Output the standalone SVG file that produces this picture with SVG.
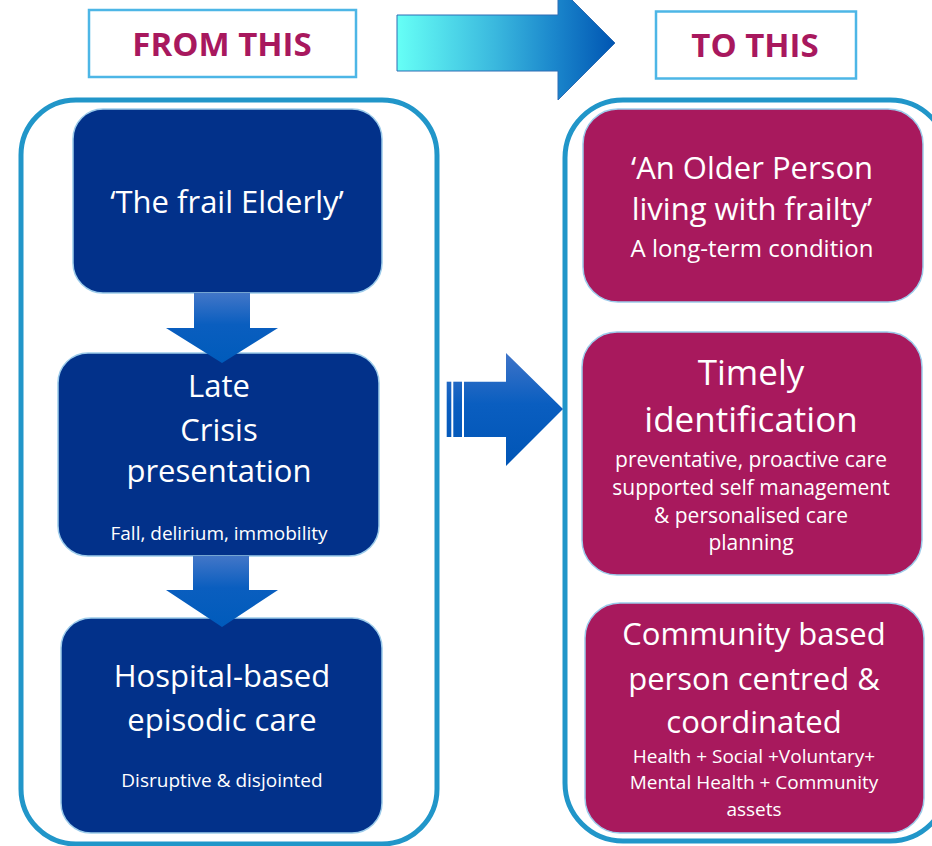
<svg xmlns="http://www.w3.org/2000/svg" width="932" height="846" viewBox="0 0 932 846">
  <defs>
    <linearGradient id="gradHeader" gradientUnits="userSpaceOnUse" x1="397" y1="0" x2="615" y2="0">
      <stop offset="0" stop-color="#66FFF6"/>
      <stop offset="0.45" stop-color="#3AB8DE"/>
      <stop offset="0.72" stop-color="#1B87CC"/>
      <stop offset="1" stop-color="#0055B2"/>
    </linearGradient>
    <linearGradient id="gradRight" gradientUnits="userSpaceOnUse" x1="0" y1="353" x2="0" y2="466">
      <stop offset="0" stop-color="#3F74C8"/>
      <stop offset="0.45" stop-color="#0A5EC0"/>
      <stop offset="1" stop-color="#0055B6"/>
    </linearGradient>
    <linearGradient id="gradDown" x1="0" y1="0" x2="0" y2="1">
      <stop offset="0" stop-color="#4276C8"/>
      <stop offset="0.45" stop-color="#0A5EBF"/>
      <stop offset="1" stop-color="#005BBB"/>
    </linearGradient>
  </defs>
  <style>
    .panel { fill: #FFFFFF; stroke: #2196C9; stroke-width: 5; }
    .head-box { fill: #FFFFFF; stroke: #4DB6E6; stroke-width: 2.5; }
    .head-text { font-family: "Open Sans", "Noto Sans", sans-serif; font-weight: 700; font-size: 33px; fill: #A8185E; text-anchor: middle; }
    .navy { fill: #02318A; stroke: #9CCBEA; stroke-width: 1.5; }
    .plum { fill: #A8195D; stroke: #9CCBEA; stroke-width: 1.5; }
    .t { font-family: "Open Sans", "Noto Sans", sans-serif; fill: #FFFFFF; text-anchor: middle; }
    .big { font-size: 31px; }
    .bigger { font-size: 35px; }
    .mid { font-size: 24px; }
    .small { font-size: 19px; }
    .small21 { font-size: 21px; }
    .down { fill: url(#gradDown); }
  </style>

  <!-- background panels -->
  <rect class="panel" x="21" y="100" width="416" height="744" rx="55"/>
  <rect class="panel" x="565" y="100" width="383" height="741" rx="58"/>

  <!-- column headings -->
  <g id="from-this">
    <rect class="head-box" x="89" y="10" width="267" height="67"/>
    <text class="head-text" x="222" y="56">FROM THIS</text>
  </g>
  <g id="to-this">
    <rect class="head-box" x="656" y="11.5" width="200" height="67"/>
    <text class="head-text" x="755" y="57">TO THIS</text>
  </g>

  <!-- left column -->
  <g id="frail-elderly">
    <rect class="navy" x="73" y="109" width="309" height="184" rx="30"/>
    <text class="t big" x="227" y="213">‘The frail Elderly’</text>
  </g>
  <g id="late-crisis">
    <rect class="navy" x="58" y="353" width="321" height="203" rx="30"/>
    <text class="t big" x="219" y="397">Late</text>
    <text class="t big" x="219" y="441">Crisis</text>
    <text class="t big" x="219" y="482">presentation</text>
    <text class="t small" x="219" y="540">Fall, delirium, immobility</text>
  </g>
  <g id="hospital-care">
    <rect class="navy" x="61" y="618" width="321" height="215" rx="30"/>
    <text class="t big" x="222" y="687">Hospital-based</text>
    <text class="t big" x="222" y="731">episodic care</text>
    <text class="t small" x="222" y="787">Disruptive &amp; disjointed</text>
  </g>

  <!-- right column -->
  <g id="older-person">
    <rect class="plum" x="583" y="109" width="340" height="193" rx="35"/>
    <text class="t big" x="752" y="179">‘An Older Person</text>
    <text class="t big" x="752" y="220">living with frailty’</text>
    <text class="t mid" x="752" y="257">A long-term condition</text>
  </g>
  <g id="timely-identification">
    <rect class="plum" x="582" y="332" width="340" height="243" rx="35"/>
    <text class="t bigger" x="751" y="385">Timely</text>
    <text class="t bigger" x="751" y="432">identification</text>
    <text class="t small21" x="751" y="467">preventative, proactive care</text>
    <text class="t small21" x="751" y="495">supported self management</text>
    <text class="t small21" x="751" y="523">&amp; personalised care</text>
    <text class="t small21" x="751" y="550">planning</text>
  </g>
  <g id="community-care">
    <rect class="plum" x="585" y="603" width="339" height="230" rx="35"/>
    <text class="t big" x="754" y="645">Community based</text>
    <text class="t big" x="754" y="690">person centred &amp;</text>
    <text class="t big" x="754" y="733">coordinated</text>
    <text class="t small" x="754" y="763">Health + Social +Voluntary+</text>
    <text class="t small" x="754" y="789">Mental Health + Community</text>
    <text class="t small" x="754" y="816">assets</text>
  </g>

  <!-- connectors -->
  <g id="connectors">
    <polygon points="397,15 558,15 558,-14 615,43 558,100 558,71 397,71" fill="url(#gradHeader)" stroke="#2E6DB4" stroke-width="1"/>
    <g fill="url(#gradRight)">
      <rect x="446.7" y="381.7" width="4.6" height="55.3"/>
      <rect x="453.3" y="381.7" width="8.7" height="55.3"/>
      <polygon points="464,381.7 506,381.7 506,353 563,409 506,466 506,437 464,437"/>
    </g>
    <polygon class="down" points="194,293 250,293 250,328 278,328 222,363 166,328 194,328"/>
    <polygon class="down" points="193,556 249,556 249,590 278,590 222,627 166,590 193,590"/>
  </g>
</svg>
